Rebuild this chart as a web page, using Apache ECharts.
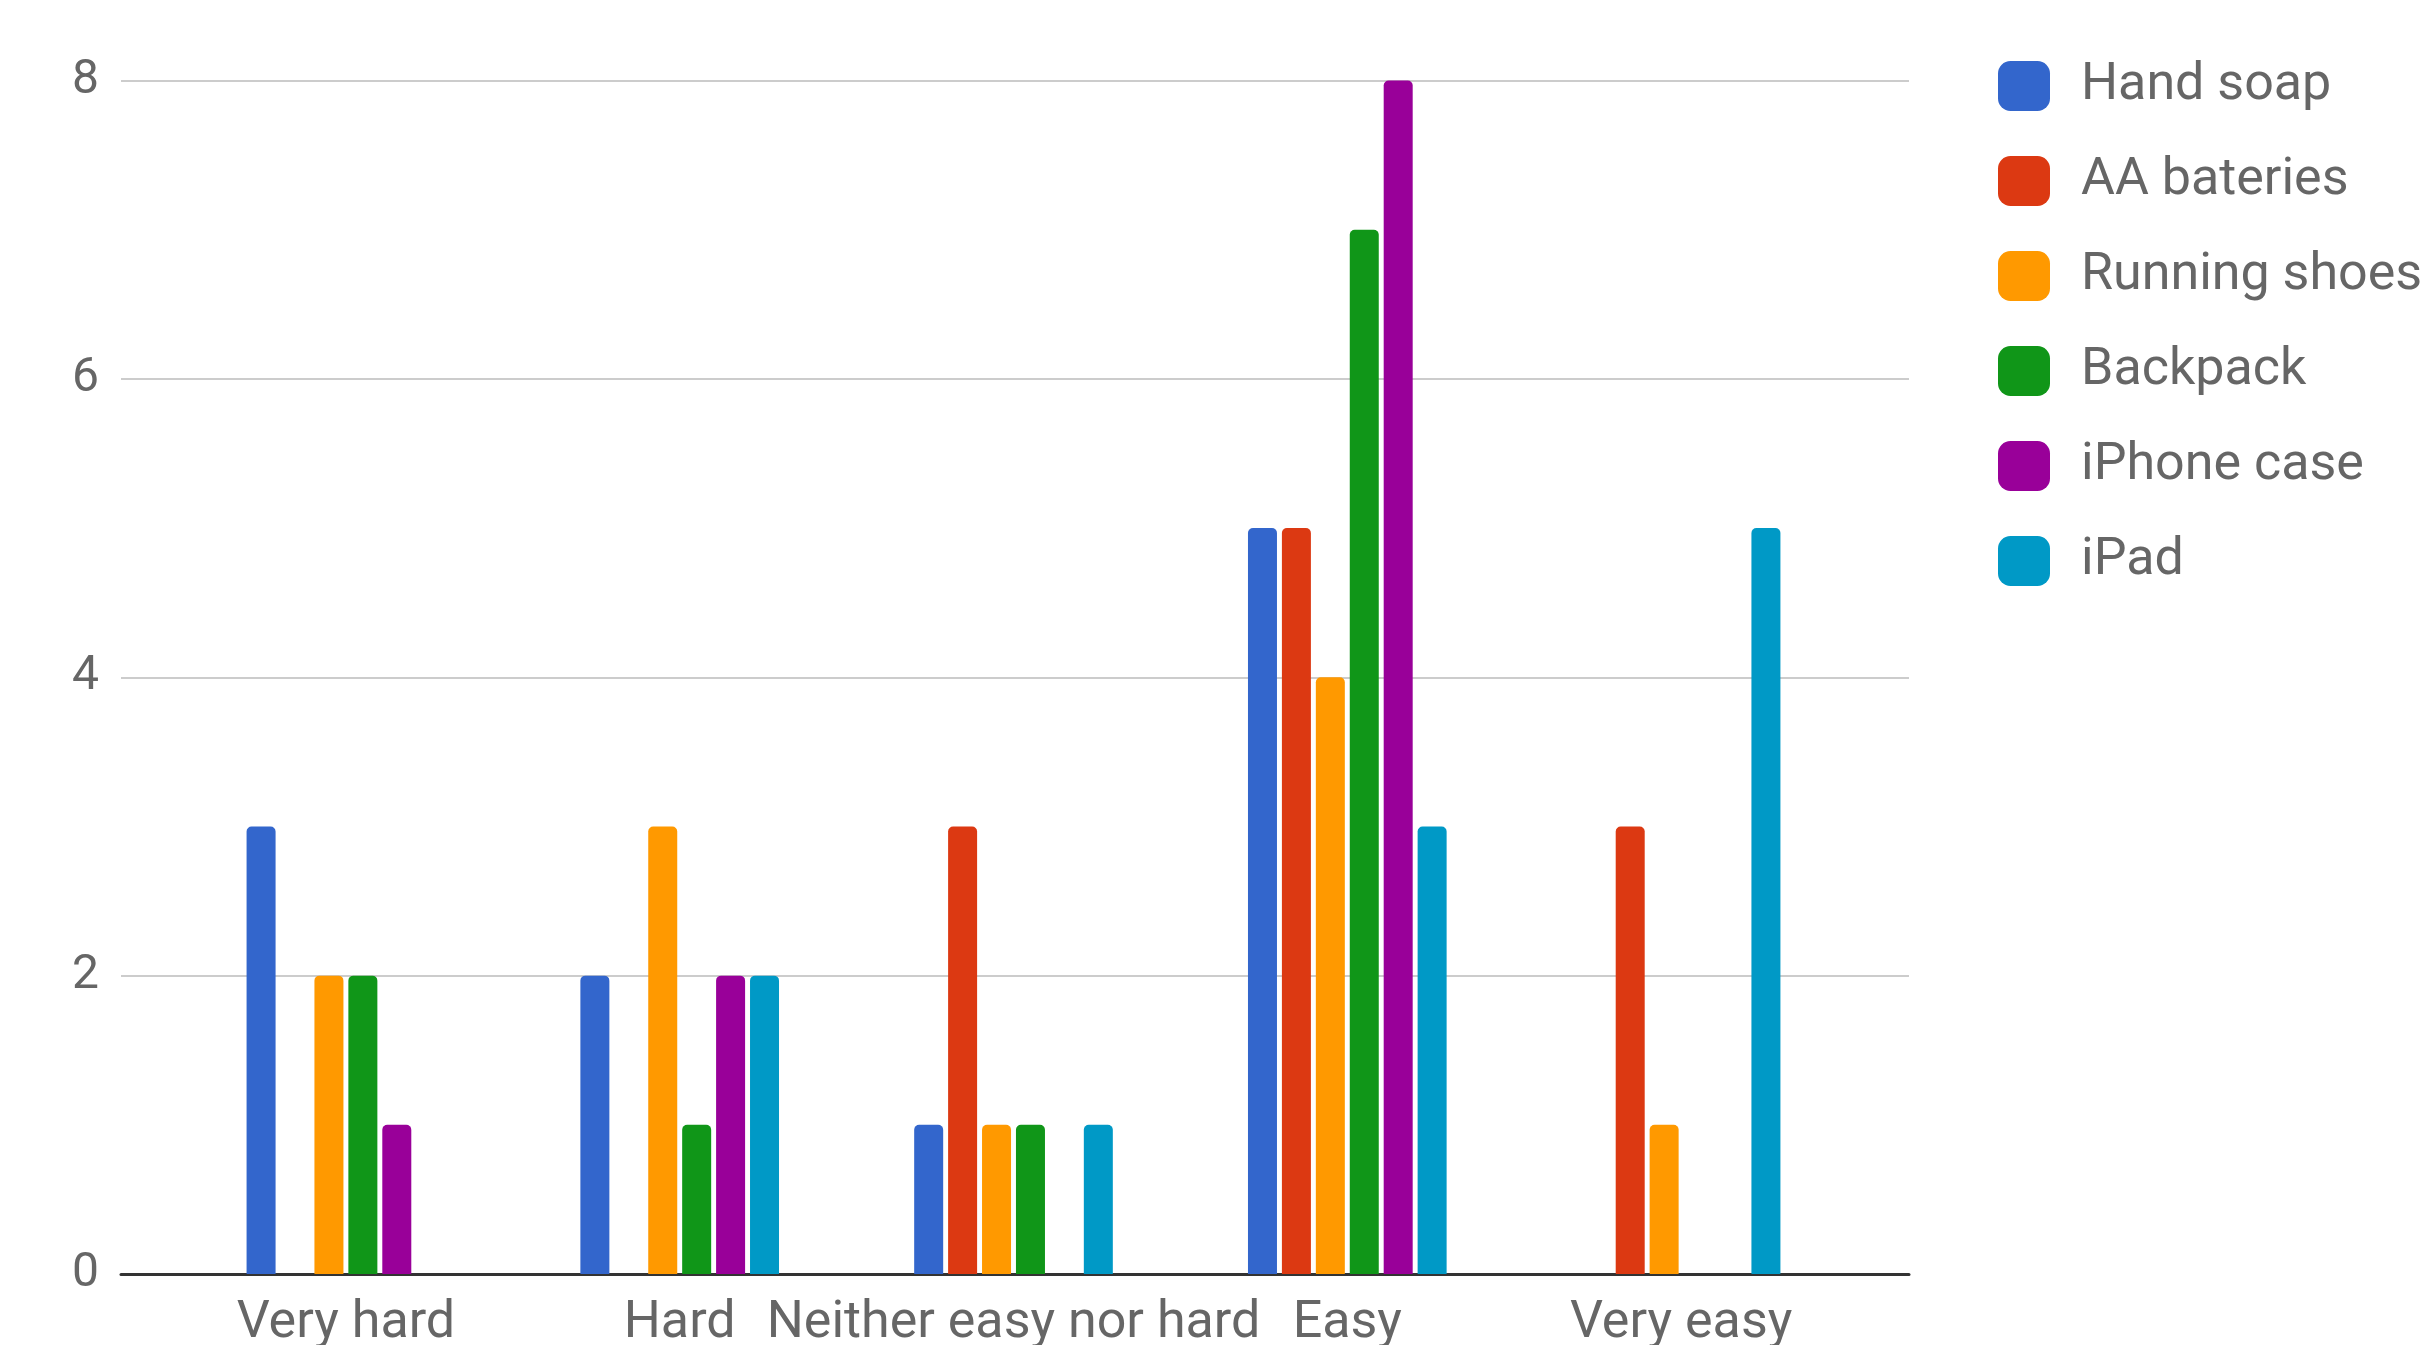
<!DOCTYPE html>
<html>
<head>
<meta charset="utf-8">
<script src="https://cdn.jsdelivr.net/npm/echarts@6/dist/echarts.min.js"></script>
<style>
html,body{margin:0;padding:0;background:#fff;}
#chart{width:2428px;height:1345px;}
</style>
</head>
<body>
<div id="chart"></div>
<script>
const categories = ['Very hard', 'Hard', 'Neither easy nor hard', 'Easy', 'Very easy'];
const seriesNames = ['Hand soap', 'AA bateries', 'Running shoes', 'Backpack', 'iPhone case', 'iPad'];
const handSoap     = [3, 2, 1, 5, 0];
const aaBateries   = [0, 0, 3, 5, 3];
const runningShoes = [2, 3, 1, 4, 1];
const backpack     = [2, 1, 1, 7, 0];
const iphoneCase   = [1, 2, 0, 8, 0];
const ipad         = [0, 2, 1, 3, 5];
const yTicks = { min: 0, max: 8, interval: 2 };

const colors = ['#3366cc', '#dc3912', '#ff9900', '#109618', '#990099', '#0099c6'];
const values = [handSoap, aaBateries, runningShoes, backpack, iphoneCase, ipad];

const chart = echarts.init(document.getElementById('chart'));
const textColor = '#666666';
const font = 'Roboto';

chart.setOption({
  animation: false,
  color: colors,
  textStyle: { fontFamily: font },
  grid: [
    { left: 121, right: 519, top: 80.5, bottom: 71, containLabel: false, outerBoundsMode: 'none' },
    { left: 179, right: 580, top: 80.5, bottom: 71, containLabel: false, outerBoundsMode: 'none' }
  ],
  legend: {
    orient: 'vertical',
    left: 1993,
    top: 55,
    icon: 'roundRect',
    itemWidth: 52,
    itemHeight: 50,
    itemGap: 43,
    data: seriesNames,
    textStyle: { fontSize: 52, color: textColor, fontFamily: font, padding: [0, 0, 0, 26] }
  },
  xAxis: [
    {
      gridIndex: 0, type: 'category', data: [''],
      axisLine: { show: true, lineStyle: { color: '#333333', width: 3 } },
      axisTick: { show: false }, axisLabel: { show: false }, splitLine: { show: false }
    },
    {
      gridIndex: 1, type: 'category', data: categories,
      axisLine: { show: false }, axisTick: { show: false },
      axisLabel: { interval: 0, fontSize: 52, color: textColor, fontFamily: font, margin: 24 }
    }
  ],
  yAxis: [
    {
      gridIndex: 0, type: 'value', min: yTicks.min, max: yTicks.max, interval: yTicks.interval,
      axisLine: { show: false }, axisTick: { show: false },
      axisLabel: { fontSize: 48, color: textColor, fontFamily: font, margin: 22 },
      splitLine: { lineStyle: { color: '#cccccc', width: 2 } }
    },
    {
      gridIndex: 1, type: 'value', min: yTicks.min, max: yTicks.max, interval: yTicks.interval,
      show: false, splitLine: { show: false }
    }
  ],
  series: seriesNames.map((name, i) => ({
    name: name,
    type: 'bar',
    xAxisIndex: 1,
    yAxisIndex: 1,
    barWidth: 29,
    barGap: '17%',
    itemStyle: { color: colors[i], borderRadius: [5, 5, 0, 0] },
    data: values[i]
  }))
});
</script>
</body>
</html>
